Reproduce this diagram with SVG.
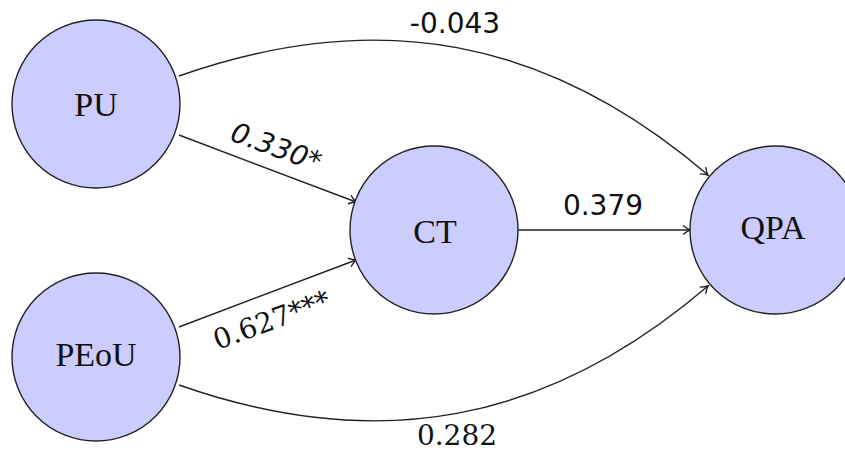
<svg xmlns="http://www.w3.org/2000/svg" width="845" height="452" viewBox="0 0 845 452">
<style>
.node ellipse{fill:#ccccff;stroke:#222;stroke-width:1.4}
.nl{font-family:"Liberation Serif","Times New Roman",serif;font-size:34px;fill:#111;text-anchor:middle}
.edge{fill:none;stroke:#222;stroke-width:1.4;marker-end:url(#arr)}
.ls{font-family:"DejaVu Sans",sans-serif;font-size:28px;fill:#111;text-anchor:middle}
.lr{font-family:"DejaVu Serif",serif;font-size:28px;fill:#111;text-anchor:middle}
</style>
<defs>
<marker id="arr" markerUnits="userSpaceOnUse" orient="auto" markerWidth="12" markerHeight="12" viewBox="-8 -6 10 12" refX="0" refY="0">
<path d="M-7,-4.5 Q-2.5,-1 0,0 Q-2.5,1 -7,4.5" fill="none" stroke="#222" stroke-width="1.4"/>
</marker>
</defs>
<rect width="845" height="452" fill="#fff"/>
<g id="connectors">
<path class="edge" d="M179,76 C378,6 548,38 708,175"/>
<path class="edge" d="M179,135 L356,202"/>
<path class="edge" d="M179,327 L356,260"/>
<path class="edge" d="M518,230 L690,230"/>
<path class="edge" d="M179,385 C378,455 548,423 708,286"/>
</g>
<g id="node-PU" class="node"><ellipse cx="96" cy="104" rx="84" ry="84"/><text class="nl" x="96" y="116">PU</text></g>
<g id="node-PEoU" class="node"><ellipse cx="96" cy="357" rx="84" ry="84"/><text class="nl" x="96" y="366">PEoU</text></g>
<g id="node-CT" class="node"><ellipse cx="434" cy="230" rx="84" ry="84"/><text class="nl" x="435" y="243">CT</text></g>
<g id="node-QPA" class="node"><ellipse cx="775" cy="230" rx="85" ry="84"/><text class="nl" x="773" y="239">QPA</text></g>
<g id="labels">
<text class="ls" x="455" y="33">-0.043</text>
<text class="ls" x="603" y="215">0.379</text>
<text class="lr" x="457" y="445">0.282</text>
<text class="ls" font-style="italic" transform="translate(273,156) rotate(20)">0.330*</text>
<text class="lr" transform="translate(275,329) rotate(-20)">0.627***</text>
</g>
</svg>
